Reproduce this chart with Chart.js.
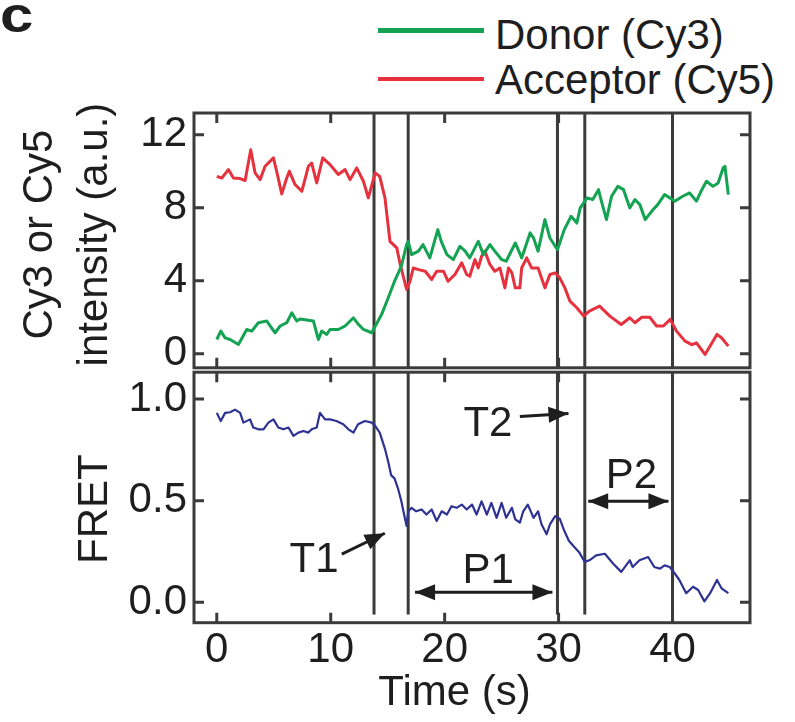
<!DOCTYPE html>
<html>
<head>
<meta charset="utf-8">
<script src="https://cdn.jsdelivr.net/npm/chart.js@4.4.1/dist/chart.umd.min.js"></script>
<style>
  body { margin: 0; background: #fff; }
  #wrap { position: relative; width: 795px; height: 722px; overflow: hidden;
          font-family: "Liberation Sans", Arial, Helvetica, sans-serif; color: #1e1e1e; }
  canvas { position: absolute; left: 0; }
  #intensityChart { top: 0; }
  #fretChart { top: 340px; }
  .panel-letter { position: absolute; left: 0; top: -10px; font-size: 50px; font-weight: bold;
                  line-height: 1; transform: scaleX(1.2); transform-origin: left top; }
  .swatch { position: absolute; left: 378px; width: 106px; }
  .key { position: absolute; left: 495px; font-size: 42px; line-height: 1; white-space: nowrap; }
</style>
</head>
<body>
<div id="wrap">
  <div class="panel-letter">c</div>
  <div class="swatch" style="top:28px;height:5px;background:#14a352"></div>
  <div class="key" style="top:14px">Donor (Cy3)</div>
  <div class="swatch" style="top:77px;height:3.5px;background:#e5323e"></div>
  <div class="key" style="top:59px">Acceptor (Cy5)</div>
  <canvas id="intensityChart" width="795" height="400"></canvas>
  <canvas id="fretChart" width="795" height="382"></canvas>
</div>
<script>
// axis ticks
const timeTicks = [0, 10, 20, 30, 40];
const intensityTicks = [0, 4, 8, 12];
const fretTicks = [0, 0.5, 1];

// times (s) of the vertical markers
const eventTimes = [13.8, 16.8, 29.9, 32.3, 40.0];

// donor (Cy3) trace
const donorTime = [0, 0.35, 0.73, 1.17, 1.9, 2.63, 3.07, 3.65, 4.39, 5.12, 5.56, 6.14, 6.58, 7.02, 7.3, 7.6, 8.48, 8.92,
  9.21, 9.65, 9.94, 10.67, 11.26, 11.99, 12.43, 12.87, 13.6, 14.47, 15.05, 15.6, 16.2, 16.66, 16.8, 17.1, 17.7, 18.1,
  18.7, 19.4, 19.7, 20.2, 20.76, 21.34, 21.8, 22.2, 22.95, 23.4, 23.97, 24.4, 25.0, 25.4, 26.2, 26.76, 27.5, 27.8, 28.2,
  28.8, 29.24, 29.9, 30.5, 31.1, 31.6, 31.9, 32.5, 33.0, 33.5, 33.8, 34.2, 34.65, 35.2, 35.7, 36.25, 36.7, 37.13, 37.6,
  38.3, 38.7, 39.3, 39.76, 40.2, 40.9, 41.5, 42.1, 42.5, 42.98, 43.55, 44.0, 44.44, 44.6, 44.9];
const donorValues = [0.78, 1.24, 0.87, 0.78, 0.51, 1.33, 1.24, 1.7, 1.79, 1.15, 1.52, 1.7, 2.24, 1.79, 1.9, 1.88, 1.79, 0.78,
  1.24, 1.06, 1.33, 1.33, 1.52, 1.97, 1.61, 1.33, 1.15, 2.16, 3.07, 3.97, 4.8, 5.98, 6.16, 5.43, 5.62, 5.98,
  5.25, 6.8, 6.16, 5.43, 5.16, 5.89, 5.62, 5.25, 6.16, 5.43, 5.98, 5.62, 5.16, 5.07, 6.07, 5.25, 6.62, 6.34, 5.62,
  7.35, 6.34, 5.7, 6.8, 7.53, 7.16, 7.99, 8.54, 8.45, 8.99, 8.26, 7.35, 8.63, 9.17, 8.99, 7.99, 8.45, 8.17, 7.35,
  7.9, 8.17, 8.72, 8.54, 8.36, 8.63, 8.81, 8.36, 8.9, 9.45, 9.17, 9.36, 10.18, 10.27, 8.72];

// acceptor (Cy5) trace
const acceptorTime = [0, 0.44, 1.02, 1.46, 2.05, 2.49, 2.98, 3.36, 3.8, 4.24, 4.97, 5.32, 5.7, 6.14, 6.37, 6.87, 7.46, 8.04,
  8.33, 8.77, 9.3, 9.94, 10.67, 11.26, 11.7, 12.28, 12.87, 13.3, 13.9, 14.3, 14.76, 15.2, 15.5, 15.8, 16.1, 16.66, 16.96,
  17.25, 17.7, 18.3, 18.86, 19.3, 19.9, 20.3, 20.9, 21.5, 21.93, 22.2, 22.66, 22.95, 23.24, 23.53, 23.97, 24.4, 24.85,
  25.29, 25.6, 25.9, 26.2, 26.6, 26.76, 27.2, 27.63, 28.2, 28.8, 29.24, 29.7, 30.1, 30.55, 31.0, 31.6, 32.2, 32.7, 33.6,
  34.5, 35.5, 36.25, 36.7, 37.3, 38.0, 38.6, 39.2, 39.8, 40.35, 41.1, 41.7, 42.1, 42.85, 43.3, 43.9, 44.3, 44.9];
const acceptorValues = [9.72, 9.63, 10.09, 9.63, 9.6, 9.49, 11.18, 9.91, 9.54, 10.27, 10.73, 9.82, 8.76, 9.63, 10.0, 9.27, 8.9, 10.27,
  10.45, 9.36, 10.73, 10.36, 9.82, 10.09, 9.54, 10.18, 9.45, 8.54, 9.91, 9.72, 8.54, 6.16, 5.98, 5.8, 4.89, 3.52, 3.97,
  4.7, 4.61, 4.52, 4.07, 4.52, 4.52, 3.97, 4.34, 4.98, 4.34, 4.25, 5.16, 4.7, 5.34, 5.62, 4.89, 4.52, 4.7,
  3.61, 4.7, 4.43, 3.61, 3.61, 4.7, 5.25, 4.7, 4.7, 3.61, 4.34, 4.43, 4.16, 3.61, 2.88, 2.52, 2.06, 2.34, 2.61,
  2.06, 1.6, 1.97, 1.7, 2.0, 2.0, 1.52, 1.52, 1.88, 1.24, 0.69, 0.5, 0.6, -0.04, 0.42, 1.06, 0.88, 0.42];

// FRET efficiency trace
const fretTime = [0, 0.35, 0.73, 1.17, 1.6, 2.05, 2.34, 2.92, 3.2, 3.65, 4.1, 4.53, 4.97, 5.4, 5.85, 6.29, 6.73, 7.16, 7.6,
  8.04, 8.33, 8.77, 9.06, 9.5, 9.94, 10.5, 11.1, 11.55, 12.0, 12.4, 13.0, 13.6, 13.9, 14.3, 14.76, 15.05, 15.3, 15.6,
  15.9, 16.2, 16.5, 16.66, 16.8, 17.1, 17.5, 17.98, 18.4, 18.86, 19.3, 19.74, 20.2, 20.6, 21.05, 21.5, 21.93, 22.4,
  22.8, 23.24, 23.7, 24.1, 24.56, 25.0, 25.4, 25.9, 26.2, 26.6, 26.9, 27.3, 27.8, 28.2, 28.5, 28.95, 29.24, 29.7,
  30.1, 30.5, 30.9, 31.4, 31.8, 32.3, 32.7, 33.3, 34.06, 34.8, 35.5, 36.25, 36.5, 37.1, 37.86, 38.4, 38.9, 39.3,
  39.76, 40.2, 40.6, 41.2, 41.8, 42.25, 42.8, 43.3, 43.9, 44.3, 44.9];
const fretValues = [0.932, 0.892, 0.932, 0.935, 0.948, 0.932, 0.884, 0.9, 0.86, 0.851, 0.851, 0.884, 0.9, 0.86, 0.851, 0.86, 0.819, 0.835, 0.843,
  0.835, 0.851, 0.86, 0.932, 0.9, 0.9, 0.892, 0.876, 0.851, 0.835, 0.876, 0.892, 0.884, 0.868, 0.835, 0.755, 0.69, 0.626, 0.61,
  0.561, 0.497, 0.416, 0.376, 0.448, 0.465, 0.448, 0.457, 0.432, 0.457, 0.4, 0.448, 0.432, 0.473, 0.465, 0.481, 0.457, 0.481,
  0.432, 0.497, 0.432, 0.489, 0.416, 0.489, 0.416, 0.465, 0.408, 0.392, 0.448, 0.481, 0.416, 0.448, 0.384, 0.335, 0.384, 0.424,
  0.412, 0.352, 0.303, 0.271, 0.247, 0.199, 0.207, 0.231, 0.239, 0.19, 0.15, 0.207, 0.174, 0.207, 0.223, 0.174, 0.166, 0.182,
  0.174, 0.142, 0.11, 0.045, 0.077, 0.061, 0.005, 0.045, 0.11, 0.069, 0.045];

const pairUp = (xs, ys) => xs.map((t, i) => ({ x: t, y: ys[i] }));

const fontFamily = '"Liberation Sans", Arial, Helvetica, sans-serif';
const ink = '#1e1e1e';
const frameColor = '#3b3b3b';
Chart.defaults.font.family = fontFamily;
Chart.defaults.color = ink;

// frame, inward ticks and vertical event lines, all placed through the scales
const panelFrame = {
  id: 'panelFrame',
  beforeDatasetsDraw(chart, args, opts) {
    const { ctx, chartArea: a, scales: { x, y } } = chart;
    const yEnd = opts.lineEnd === undefined ? a.bottom : y.getPixelForValue(opts.lineEnd);
    ctx.save();
    ctx.strokeStyle = frameColor;
    ctx.lineWidth = 3;
    eventTimes.forEach(t => {
      const px = x.getPixelForValue(t);
      ctx.beginPath();
      ctx.moveTo(px, a.top);
      ctx.lineTo(px, yEnd);
      ctx.stroke();
    });
    ctx.restore();
  },
  afterDraw(chart, args, opts) {
    const { ctx, chartArea: a, scales: { x, y } } = chart;
    const len = 10;
    ctx.save();
    ctx.strokeStyle = frameColor;
    ctx.lineWidth = 3;
    ctx.beginPath();
    timeTicks.forEach(t => {
      const px = x.getPixelForValue(t);
      ctx.moveTo(px, a.top); ctx.lineTo(px, a.top + len);
      ctx.moveTo(px, a.bottom); ctx.lineTo(px, a.bottom - len);
    });
    opts.yTicks.forEach(v => {
      const py = y.getPixelForValue(v);
      ctx.moveTo(a.left, py); ctx.lineTo(a.left + len, py);
      ctx.moveTo(a.right, py); ctx.lineTo(a.right - len, py);
    });
    ctx.stroke();
    ctx.strokeRect(a.left, a.top, a.right - a.left, a.bottom - a.top);
    ctx.restore();
  }
};

function arrowHead(ctx, fx, fy, tx, ty) {
  const ang = Math.atan2(ty - fy, tx - fx);
  const len = 20, half = 8;
  ctx.beginPath();
  ctx.moveTo(tx, ty);
  ctx.lineTo(tx - len * Math.cos(ang) + half * Math.sin(ang), ty - len * Math.sin(ang) - half * Math.cos(ang));
  ctx.lineTo(tx - len * Math.cos(ang) - half * Math.sin(ang), ty - len * Math.sin(ang) + half * Math.cos(ang));
  ctx.closePath();
  ctx.fill();
}

// T1 / T2 / P1 / P2 labels and arrows, given in data units
const fretNotes = {
  id: 'fretNotes',
  afterDraw(chart, args, opts) {
    const { ctx, scales: { x, y } } = chart;
    ctx.save();
    ctx.fillStyle = ink;
    ctx.strokeStyle = ink;
    ctx.lineWidth = 3;
    ctx.font = '42px ' + fontFamily;
    ctx.textAlign = 'center';
    ctx.textBaseline = 'alphabetic';
    opts.labels.forEach(l => ctx.fillText(l.text, x.getPixelForValue(l.x), y.getPixelForValue(l.y)));
    opts.arrows.forEach(ar => {
      const x0 = x.getPixelForValue(ar.from[0]), y0 = y.getPixelForValue(ar.from[1]);
      const x1 = x.getPixelForValue(ar.to[0]), y1 = y.getPixelForValue(ar.to[1]);
      ctx.beginPath();
      ctx.moveTo(x0, y0);
      ctx.lineTo(x1, y1);
      ctx.stroke();
      arrowHead(ctx, x0, y0, x1, y1);
      if (ar.both) arrowHead(ctx, x1, y1, x0, y0);
    });
    ctx.restore();
  }
};

const tickFont = { size: 42 };

function timeScale(show) {
  return {
    type: 'linear',
    min: -2,
    max: 46.8,
    display: show,
    grid: { display: false, drawTicks: false },
    border: { display: false },
    afterBuildTicks: s => { s.ticks = timeTicks.map(v => ({ value: v })); },
    afterFit: s => { s.height = show ? 99.3 : 0; },
    ticks: { font: tickFont, color: ink, padding: 3, maxRotation: 0, autoSkip: false },
    // trailing spaces nudge the centred title left, as in the original figure
    title: { display: show, text: 'Time (s)   ', font: { size: 42 }, color: ink, padding: { top: 0, bottom: 3 } }
  };
}

new Chart(document.getElementById('intensityChart'), {
  type: 'line',
  data: {
    datasets: [
      { label: 'Donor (Cy3)', data: pairUp(donorTime, donorValues), borderColor: '#14a352', borderWidth: 3 },
      { label: 'Acceptor (Cy5)', data: pairUp(acceptorTime, acceptorValues), borderColor: '#e5323e', borderWidth: 3 }
    ]
  },
  options: {
    responsive: false,
    animation: false,
    devicePixelRatio: 1,
    layout: { padding: { top: 113, bottom: 32, left: 0, right: 45 } },
    elements: { point: { radius: 0 }, line: { tension: 0, borderJoinStyle: 'round' } },
    scales: {
      x: timeScale(false),
      y: {
        min: -0.77,
        max: 13.19,
        grid: { display: false, drawTicks: false },
        border: { display: false },
        afterBuildTicks: s => { s.ticks = intensityTicks.map(v => ({ value: v })); },
        afterFit: s => { s.width = 194; },
        ticks: { font: tickFont, color: ink, padding: 7, autoSkip: false },
        title: {
          display: true, text: [' Cy3 or Cy5', ' intensity (a.u.)'], color: ink,
          font: { size: 42, lineHeight: 1.32 }, padding: { top: 12.7, bottom: 0 }
        }
      }
    },
    plugins: {
      legend: { display: false },
      tooltip: { enabled: false },
      panelFrame: { yTicks: intensityTicks }
    }
  },
  plugins: [panelFrame]
});

new Chart(document.getElementById('fretChart'), {
  type: 'line',
  data: {
    datasets: [
      { label: 'FRET', data: pairUp(fretTime, fretValues), borderColor: '#2e3292', borderWidth: 2.2 }
    ]
  },
  options: {
    responsive: false,
    animation: false,
    devicePixelRatio: 1,
    layout: { padding: { top: 28, bottom: 0, left: 0, right: 45 } },
    elements: { point: { radius: 0 }, line: { tension: 0, borderJoinStyle: 'round' } },
    scales: {
      x: timeScale(true),
      y: {
        min: -0.1,
        max: 1.132,
        grid: { display: false, drawTicks: false },
        border: { display: false },
        afterBuildTicks: s => { s.ticks = fretTicks.map(v => ({ value: v })); },
        afterFit: s => { s.width = 194; },
        ticks: { font: tickFont, color: ink, padding: 7, autoSkip: false, callback: v => Number(v).toFixed(1) },
        title: { display: true, text: 'FRET  ', color: ink, font: { size: 42 }, padding: { top: 70, bottom: 0 } }
      }
    },
    plugins: {
      legend: { display: false },
      tooltip: { enabled: false },
      panelFrame: { yTicks: fretTicks, lineEnd: -0.06 },
      fretNotes: {
        labels: [
          { text: 'T1', x: 8.54, y: 0.15 },
          { text: 'T2', x: 23.8, y: 0.818 },
          { text: 'P1', x: 23.83, y: 0.093 },
          { text: 'P2', x: 36.4, y: 0.561 }
        ],
        arrows: [
          { from: [10.97, 0.237], to: [14.75, 0.34] },
          { from: [26.6, 0.914], to: [30.87, 0.929] },
          { from: [17.4, 0.05], to: [29.46, 0.05], both: true },
          { from: [32.6, 0.497], to: [39.64, 0.497], both: true }
        ]
      }
    }
  },
  plugins: [panelFrame, fretNotes]
});
</script>
</body>
</html>
